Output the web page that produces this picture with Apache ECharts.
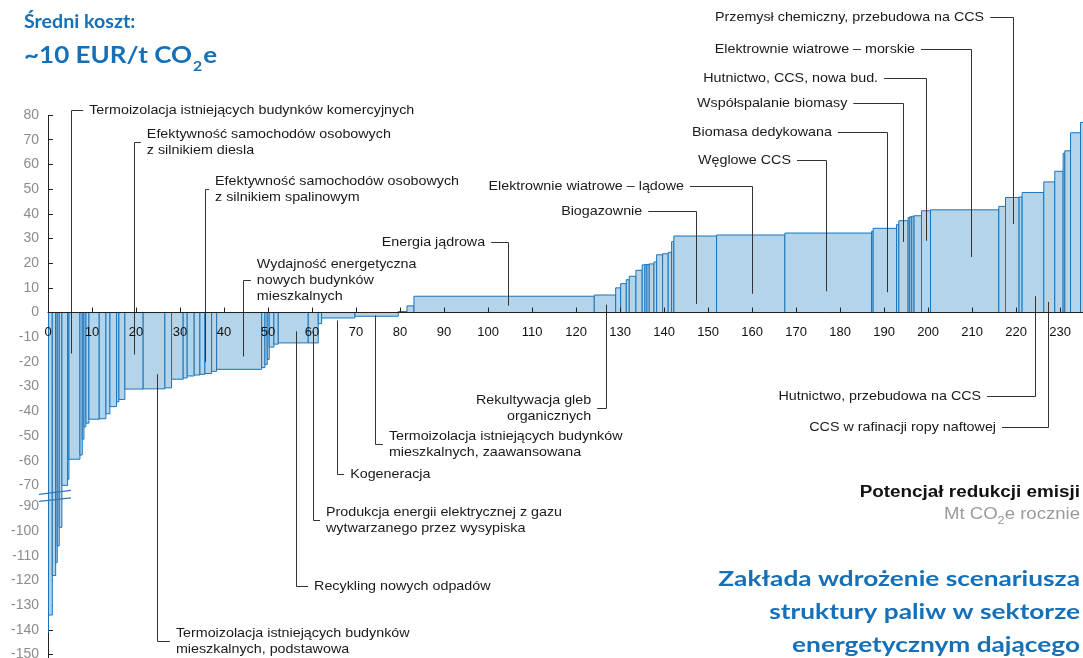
<!DOCTYPE html>
<html>
<head>
<meta charset="utf-8">
<script src="https://cdn.jsdelivr.net/npm/echarts@6/dist/echarts.min.js"></script>
<style>
  html, body { margin: 0; padding: 0; background: #fff; }
  #chart { width: 1083px; height: 658px; }
</style>
</head>
<body>
<div id="chart"></div>
<script>
// abatement potential of each lever, Mt CO2e per year (bar widths)
var widths = [0.11, 0.86, 0.77, 0.36, 0.45, 0.61, 1.30, 0.30, 2.50, 0.52,
  0.39, 0.45, 0.68, 2.34, 1.52, 0.91, 1.52, 0.52, 1.36, 4.16,
  4.93, 1.52, 2.64, 0.91, 1.59, 1.30, 1.14, 1.52, 1.14, 10.23,
  0.75, 0.52, 0.45, 1.07, 0.98, 6.82, 2.27, 0.77, 7.57, 9.84,
  1.98, 1.59, 40.98, 4.86, 1.14, 1.27, 0.68, 1.52, 1.41, 0.64,
  0.45, 0.52, 1.07, 0.61, 1.36, 1.27, 0.77, 0.52, 9.70, 15.52,
  19.70, 0.36, 5.32, 0.52, 2.11, 0.39, 0.45, 0.52, 1.68, 2.05,
  15.52, 1.52, 3.09, 0.68, 4.93, 2.50, 1.89, 0.39, 1.30, 2.27, 1.5];
// abatement cost, EUR per t CO2e (bar heights)
var costs = [-141, -134, -118, -112.7, -106, -98.5, -70, -67.5, -59.4, -57.7,
  -51.3, -46.3, -44.8, -43.2, -43, -41, -38.1, -36.2, -35.2, -31,
  -30.9, -30.5, -27, -26.5, -25.7, -25.3, -25, -24.7, -23.8, -23,
  -22.3, -21, -19, -14, -12.8, -12.3, -12.3, -4.5, -2.2, -1.5,
  0.4, 2.7, 6.6, 7.1, 10, 11.7, 13.3, 14.7, 17.1, 19.3,
  19.4, 19.5, 19.7, 20.5, 23.4, 23.8, 24.4, 28.7, 31, 31.4,
  32.2, 32.9, 34.1, 35.6, 37.2, 38.5, 38.8, 39, 39.2, 41.2,
  41.6, 43, 46.6, 46.8, 48.6, 52.9, 57.2, 64.5, 65.5, 72.8, 77];

var yTicks = [80, 70, 60, 50, 40, 30, 20, 10, 0, -10, -20, -30, -40, -50, -60, -70,
  -90, -100, -110, -120, -130, -140, -150];

// callouts: text, x of the leader, where it starts in the bar, elbow height, end of the elbow
var annTexts = [
  'Termoizolacja istniejących budynków komercyjnych',
  'Efektywność samochodów osobowych\nz silnikiem diesla',
  'Efektywność samochodów osobowych\nz silnikiem spalinowym',
  'Wydajność energetyczna\nnowych budynków\nmieszkalnych',
  'Termoizolacja istniejących budynków\nmieszkalnych, podstawowa',
  'Recykling nowych odpadów',
  'Produkcja energii elektrycznej z gazu\nwytwarzanego przez wysypiska',
  'Kogeneracja',
  'Termoizolacja istniejących budynków\nmieszkalnych, zaawansowana',
  'Rekultywacja gleb\norganicznych',
  'Energia jądrowa',
  'Biogazownie',
  'Elektrownie wiatrowe – lądowe',
  'Węglowe CCS',
  'Biomasa dedykowana',
  'Współspalanie biomasy',
  'Hutnictwo, CCS, nowa bud.',
  'Elektrownie wiatrowe – morskie',
  'Przemysł chemiczny, przebudowa na CCS',
  'Hutnictwo, przebudowa na CCS',
  'CCS w rafinacji ropy naftowej'
];
var annLineX = [5.3, 19.5, 35.7, 44.2, 24.8, 56.4, 60.2, 65.6, 74.3, 126.8,
  104.5, 147.2, 160, 176.8, 190.7, 194.25, 199.5, 209.8, 219.2, 224.2, 227.3];
var annFromY = [-16.6, -17, -20, -17.8, -25, -7.6, -7.6, -3.2, -1.2, 3.2,
  2.8, 3.5, 7.6, 8.6, 8.2, 28.6, 29.1, 22.5, 35.9, 6.6, 4.3];
var annElbowY = [82.2, 69.2, 50.2, 13, -144.7, -122.4, -95.7, -65.2, -53.4, -38.5,
  28.7, 41.3, 51.4, 61.9, 73.3, 85, 95.1, 106.9, 119.8, -33.6, -46.2];
var annElbowX = [8.0, 21.1, 36.6, 46.1, 27.7, 59.1, 61.8, 67.3, 76.1, 124.8,
  100.7, 136.4, 145.9, 170.2, 179.5, 183, 190, 198.4, 214.1, 213.4, 216.8];

var blue = '#1570b8';
var labelFont = '13px "Liberation Sans", Arial, sans-serif';

var starts = [];
var acc = 0;
for (var i = 0; i < widths.length; i++) {
  starts.push(acc);
  acc += widths[i];
}
var barData = costs.map(function (c, i) {
  return [starts[i], starts[i] + widths[i], c];
});
var annData = annLineX.map(function (x, i) {
  return [x, annElbowY[i]];
});

function renderBar(params, api) {
  var p0 = api.coord([api.value(0), 0]);
  var p1 = api.coord([api.value(1), api.value(2)]);
  return {
    type: 'rect',
    shape: {
      x: p0[0],
      y: Math.min(p0[1], p1[1]),
      width: p1[0] - p0[0],
      height: Math.abs(p1[1] - p0[1])
    },
    style: { fill: '#b4d4ea', stroke: '#1a74ba', lineWidth: 1 }
  };
}

function renderAnn(params, api) {
  var i = params.dataIndex;
  var a = api.coord([annLineX[i], annFromY[i]]);
  var b = api.coord([annLineX[i], annElbowY[i]]);
  var c = api.coord([annElbowX[i], annElbowY[i]]);
  var x = Math.round(a[0]) + 0.5;
  var y = Math.round(b[1]) + 0.5;
  var toRight = c[0] > b[0];
  return {
    type: 'group',
    children: [{
      type: 'polyline',
      shape: { points: [[x, a[1]], [x, y], [c[0], y]] },
      style: { stroke: '#333', lineWidth: 1, fill: null }
    }, {
      type: 'text',
      x: toRight ? c[0] + 6 : c[0] - 6,
      y: y,
      scaleX: 1.1,
      style: {
        text: annTexts[i],
        textAlign: toRight ? 'left' : 'right',
        textVerticalAlign: 'middle',
        font: labelFont,
        lineHeight: 16,
        fill: '#1a1a1a'
      }
    }]
  };
}

function textWidth(text, font) {
  var ctx = document.createElement('canvas').getContext('2d');
  ctx.font = font;
  return ctx.measureText(text).width;
}

var chart = echarts.init(document.getElementById('chart'));

var bigFont = 'bold 23px Lato, sans-serif';
var bigSub = 'bold 14px Lato, sans-serif';
var bigScale = 1.13;
var w1 = textWidth('~10 EUR/t CO', bigFont) * bigScale;
var w2 = textWidth('2', bigSub) * bigScale;

var grayFont = '16px "Liberation Sans", Arial, sans-serif';
var graySub = '11px "Liberation Sans", Arial, sans-serif';
var grayScale = 1.16;
var g3 = textWidth('e rocznie', grayFont) * grayScale;
var g2 = textWidth('2', graySub) * grayScale;

var option = {
  animation: false,
  backgroundColor: '#fff',
  grid: { left: 48, right: 0, top: 115, bottom: 0, containLabel: false, outerBoundsMode: 'none' },
  xAxis: {
    type: 'value',
    min: 0,
    max: 235.2,
    interval: 10,
    z: 10,
    splitLine: { show: false },
    axisLine: { onZero: false, lineStyle: { color: '#222', width: 1 } },
    axisTick: { inside: true, length: 5, lineStyle: { color: '#222' } },
    axisLabel: {
      margin: 13,
      color: '#111',
      fontSize: 13,
      fontFamily: '"Liberation Sans", Arial',
      showMaxLabel: false,
      formatter: function (v) { return v % 10 === 0 ? String(v) : ''; }
    }
  },
  yAxis: {
    type: 'value',
    min: -151.4,
    max: 80,
    breaks: [{ start: -88, end: -72, gap: 4.5 }],
    breakArea: { show: false },
    splitLine: { show: false },
    axisLine: { show: true, onZero: false, lineStyle: { color: '#222', width: 1 } },
    axisTick: { inside: true, length: 5, customValues: yTicks, lineStyle: { color: '#222' } },
    axisLabel: {
      margin: 9,
      color: '#8c8c8c',
      fontSize: 14,
      fontFamily: '"Liberation Sans", Arial',
      customValues: yTicks
    }
  },
  graphic: [
    { id: 't1', type: 'text', x: 24, y: 22, scaleX: 1.09,
      style: { text: 'Średni koszt:', font: 'bold 18px Lato, sans-serif', fill: blue, textVerticalAlign: 'middle' } },
    { id: 't2', type: 'text', x: 24, y: 56, scaleX: bigScale,
      style: { text: '~10 EUR/t CO', font: bigFont, fill: blue, textVerticalAlign: 'middle' } },
    { id: 't3', type: 'text', x: 24 + w1 + 1, y: 66, scaleX: bigScale,
      style: { text: '2', font: bigSub, fill: blue, textVerticalAlign: 'middle' } },
    { id: 't4', type: 'text', x: 24 + w1 + w2 + 2, y: 56, scaleX: bigScale,
      style: { text: 'e', font: bigFont, fill: blue, textVerticalAlign: 'middle' } },
    { id: 'p1', type: 'text', x: 1080, y: 493, scaleX: 1.18,
      style: { text: 'Potencjał redukcji emisji', font: 'bold 16px "Liberation Sans", Arial', fill: '#111',
        textAlign: 'right', textVerticalAlign: 'middle' } },
    { id: 'p2', type: 'text', x: 1080, y: 515, scaleX: grayScale,
      style: { text: 'e rocznie', font: grayFont, fill: '#9a9a9a', textAlign: 'right', textVerticalAlign: 'middle' } },
    { id: 'p3', type: 'text', x: 1080 - g3, y: 521, scaleX: grayScale,
      style: { text: '2', font: graySub, fill: '#9a9a9a', textAlign: 'right', textVerticalAlign: 'middle' } },
    { id: 'p4', type: 'text', x: 1080 - g3 - g2, y: 515, scaleX: grayScale,
      style: { text: 'Mt CO', font: grayFont, fill: '#9a9a9a', textAlign: 'right', textVerticalAlign: 'middle' } },
    { id: 'z1', type: 'text', x: 1080, y: 612, scaleX: 1.25,
      style: { text: 'Zakłada wdrożenie scenariusza\nstruktury paliw w sektorze\nenergetycznym dającego',
        font: 'bold 21px Lato, sans-serif', lineHeight: 33, fill: blue, textAlign: 'right', textVerticalAlign: 'middle' } }
  ],
  series: [{
    type: 'custom',
    name: 'bars',
    renderItem: renderBar,
    encode: { x: [0, 1], y: 2 },
    data: barData,
    clip: true,
    silent: true,
    z: 2
  }, {
    type: 'custom',
    name: 'callouts',
    renderItem: renderAnn,
    encode: { x: 0, y: 1 },
    data: annData,
    clip: false,
    silent: true,
    z: 5
  }]
};

chart.setOption(option);

// move the x axis up onto the zero line
var zeroY = chart.convertToPixel({ yAxisIndex: 0 }, 0);
var bottomY = chart.convertToPixel({ yAxisIndex: 0 }, -151.4);

// axis-break marks: two short slanted strokes across the axis
var yA = chart.convertToPixel({ yAxisIndex: 0 }, -72);
var yB = chart.convertToPixel({ yAxisIndex: 0 }, -88);
var mid = (yA + yB) / 2;
var x0 = chart.convertToPixel({ xAxisIndex: 0 }, 0);
chart.setOption({
  xAxis: { offset: -(bottomY - zeroY) },
  graphic: [
    { id: 'b1', type: 'line', z: 20, shape: { x1: x0 - 9, y1: mid - 1.5, x2: x0 + 23, y2: mid - 5.5 },
      style: { stroke: '#2a7bbf', lineWidth: 1.2 } },
    { id: 'b2', type: 'line', z: 20, shape: { x1: x0 - 9, y1: mid + 5.5, x2: x0 + 23, y2: mid + 2 },
      style: { stroke: '#2a7bbf', lineWidth: 1.2 } }
  ]
});
</script>
</body>
</html>
